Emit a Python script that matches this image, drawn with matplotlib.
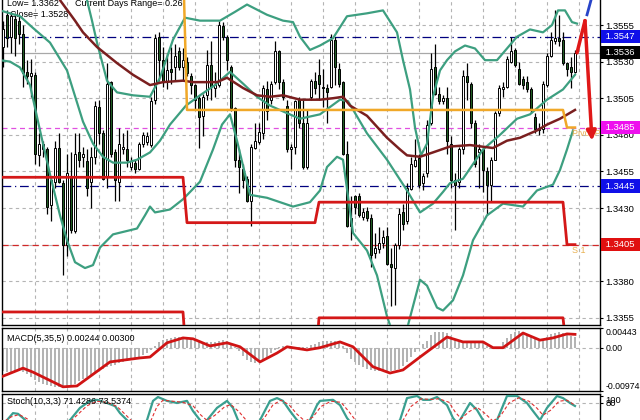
import numpy as np
import matplotlib
matplotlib.use('Agg')
import matplotlib.pyplot as plt

plt.rcParams['font.family'] = ['Liberation Sans', 'DejaVu Sans']
plt.rcParams['font.size'] = 6.5

# candles, one per bar
opens = [1.3540, 1.3562, 1.3547, 1.3559, 1.3558, 1.3549, 1.3523, 1.3520,
         1.3521, 1.3466, 1.3470, 1.3470, 1.3432, 1.3448, 1.3471, 1.3447,
         1.3405, 1.3452, 1.3414, 1.3468, 1.3465, 1.3462, 1.3448, 1.3465,
         1.3499, 1.3481, 1.3451, 1.3516, 1.3468, 1.3448, 1.3470, 1.3470,
         1.3458, 1.3461, 1.3457, 1.3474, 1.3475, 1.3473, 1.3504, 1.3547,
         1.3531, 1.3517, 1.3525, 1.3526, 1.3537, 1.3526, 1.3530, 1.3520,
         1.3514, 1.3505, 1.3493, 1.3507, 1.3528, 1.3512, 1.3514, 1.3554,
         1.3547, 1.3526, 1.3498, 1.3463, 1.3457, 1.3450, 1.3435, 1.3471,
         1.3475, 1.3481, 1.3511, 1.3504, 1.3516, 1.3537, 1.3516, 1.3500,
         1.3470, 1.3472, 1.3504, 1.3488, 1.3458, 1.3506, 1.3517, 1.3521,
         1.3513, 1.3512, 1.3513, 1.3545, 1.3525, 1.3516, 1.3467, 1.3418,
         1.3438, 1.3438, 1.3424, 1.3428, 1.3423, 1.3399, 1.3402, 1.3406,
         1.3411, 1.3392, 1.3389, 1.3405, 1.3427, 1.3421, 1.3443, 1.3459,
         1.3464, 1.3447, 1.3454, 1.3488, 1.3526, 1.3508, 1.3503, 1.3505,
         1.3474, 1.3449, 1.3448, 1.3470, 1.3520, 1.3515, 1.3488, 1.3468,
         1.3470, 1.3455, 1.3446, 1.3463, 1.3495, 1.3511, 1.3513, 1.3530,
         1.3538, 1.3525, 1.3518, 1.3516, 1.3511, 1.3492, 1.3483, 1.3484,
         1.3514, 1.3534, 1.3544, 1.3546, 1.3545, 1.3529, 1.3526, 1.3523]
highs = [1.3558, 1.3565, 1.3564, 1.3563, 1.3562, 1.3555, 1.3531, 1.3532,
         1.3523, 1.3481, 1.3476, 1.3472, 1.3451, 1.3476, 1.3481, 1.3449,
         1.3467, 1.3468, 1.3481, 1.3481, 1.3472, 1.3470, 1.3472, 1.3503,
         1.3504, 1.3483, 1.3529, 1.3517, 1.3470, 1.3485, 1.3481, 1.3483,
         1.3465, 1.3463, 1.3475, 1.3482, 1.3482, 1.3506, 1.3549, 1.3550,
         1.3540, 1.3536, 1.3540, 1.3542, 1.3540, 1.3539, 1.3533, 1.3522,
         1.3515, 1.3507, 1.3508, 1.3538, 1.3544, 1.3523, 1.3558, 1.3557,
         1.3548, 1.3528, 1.3499, 1.3470, 1.3460, 1.3452, 1.3474, 1.3488,
         1.3488, 1.3514, 1.3517, 1.3517, 1.3544, 1.3538, 1.3518, 1.3504,
         1.3474, 1.3504, 1.3506, 1.3504, 1.3497, 1.3518, 1.3523, 1.3532,
         1.3525, 1.3515, 1.3549, 1.3547, 1.3529, 1.3517, 1.3476, 1.3438,
         1.3439, 1.3440, 1.3430, 1.3431, 1.3426, 1.3413, 1.3417, 1.3415,
         1.3417, 1.3403, 1.3406, 1.3430, 1.3433, 1.3447, 1.3465, 1.3477,
         1.3467, 1.3454, 1.3490, 1.3536, 1.3542, 1.3513, 1.3507, 1.3513,
         1.3479, 1.3454, 1.3472, 1.3524, 1.3529, 1.3516, 1.3490, 1.3474,
         1.3471, 1.3458, 1.3465, 1.3496, 1.3514, 1.3516, 1.3534, 1.3547,
         1.3539, 1.3530, 1.3520, 1.3520, 1.3513, 1.3495, 1.3488, 1.3517,
         1.3536, 1.3550, 1.3565, 1.3562, 1.3550, 1.3530, 1.3533, 1.3538]
lows = [1.3526, 1.3540, 1.3536, 1.3534, 1.3542, 1.3513, 1.3515, 1.3506,
        1.3460, 1.3459, 1.3465, 1.3426, 1.3421, 1.3444, 1.3447, 1.3384,
        1.3397, 1.3413, 1.3413, 1.3458, 1.3458, 1.3438, 1.3430, 1.3460,
        1.3474, 1.3449, 1.3444, 1.3465, 1.3435, 1.3435, 1.3467, 1.3458,
        1.3456, 1.3454, 1.3456, 1.3472, 1.3473, 1.3472, 1.3501, 1.3517,
        1.3513, 1.3511, 1.3515, 1.3517, 1.3524, 1.3517, 1.3520, 1.3508,
        1.3497, 1.3471, 1.3479, 1.3504, 1.3504, 1.3506, 1.3513, 1.3545,
        1.3524, 1.3496, 1.3458, 1.3440, 1.3444, 1.3434, 1.3418, 1.3470,
        1.3474, 1.3477, 1.3490, 1.3501, 1.3515, 1.3511, 1.3504, 1.3468,
        1.3457, 1.3467, 1.3485, 1.3457, 1.3457, 1.3504, 1.3508, 1.3504,
        1.3499, 1.3488, 1.3512, 1.3514, 1.3513, 1.3466, 1.3417, 1.3408,
        1.3426, 1.3424, 1.3422, 1.3421, 1.3390, 1.3396, 1.3399, 1.3403,
        1.3391, 1.3363, 1.3364, 1.3402, 1.3415, 1.3419, 1.3442, 1.3458,
        1.3444, 1.3442, 1.3451, 1.3487, 1.3507, 1.3501, 1.3501, 1.3467,
        1.3444, 1.3415, 1.3444, 1.3467, 1.3504, 1.3485, 1.3458, 1.3444,
        1.3441, 1.3425, 1.3435, 1.3463, 1.3493, 1.3506, 1.3512, 1.3529,
        1.3526, 1.3514, 1.3511, 1.3509, 1.3495, 1.3481, 1.3480, 1.3481,
        1.3513, 1.3533, 1.3542, 1.3541, 1.3528, 1.3520, 1.3512, 1.3522]
closes = [1.3552, 1.3546, 1.3561, 1.3546, 1.3549, 1.3522, 1.3520, 1.3522,
          1.3467, 1.3474, 1.3474, 1.3431, 1.3449, 1.3471, 1.3448, 1.3405,
          1.3454, 1.3415, 1.3467, 1.3463, 1.3467, 1.3444, 1.3465, 1.3500,
          1.3481, 1.3450, 1.3515, 1.3467, 1.3449, 1.3474, 1.3472, 1.3463,
          1.3462, 1.3457, 1.3474, 1.3480, 1.3479, 1.3503, 1.3546, 1.3531,
          1.3517, 1.3524, 1.3523, 1.3534, 1.3526, 1.3531, 1.3522, 1.3514,
          1.3504, 1.3492, 1.3506, 1.3528, 1.3513, 1.3514, 1.3555, 1.3547,
          1.3531, 1.3498, 1.3463, 1.3458, 1.3449, 1.3435, 1.3472, 1.3476,
          1.3482, 1.3512, 1.3496, 1.3515, 1.3537, 1.3516, 1.3506, 1.3470,
          1.3472, 1.3503, 1.3488, 1.3458, 1.3488, 1.3517, 1.3512, 1.3515,
          1.3512, 1.3509, 1.3545, 1.3526, 1.3515, 1.3467, 1.3418, 1.3423,
          1.3431, 1.3425, 1.3427, 1.3423, 1.3398, 1.3403, 1.3406, 1.3410,
          1.3392, 1.3390, 1.3405, 1.3426, 1.3419, 1.3444, 1.3460, 1.3463,
          1.3446, 1.3452, 1.3487, 1.3525, 1.3508, 1.3503, 1.3505, 1.3476,
          1.3449, 1.3446, 1.3470, 1.3520, 1.3516, 1.3488, 1.3460, 1.3470,
          1.3456, 1.3446, 1.3463, 1.3495, 1.3512, 1.3513, 1.3532, 1.3537,
          1.3528, 1.3515, 1.3514, 1.3511, 1.3497, 1.3484, 1.3485, 1.3515,
          1.3534, 1.3545, 1.3546, 1.3544, 1.3529, 1.3525, 1.3523, 1.3536]

# Bollinger bands (bar, price)
bb_up_x = [19, 21, 22.25, 23.5, 26, 28.5, 32.5, 36.75, 39.25, 42.5, 45.5, 49.25, 54.25, 58, 61,
           66, 70, 72.5, 74.25, 76.75, 79.25, 82.5, 86, 91, 95, 98.5, 100, 101.75, 103, 104.5,
           106, 107.5, 109.25, 111, 113, 115.5, 118, 120.5, 123.5, 126, 128.5, 131.75, 135,
           137.25, 138.75, 140.5, 142.25, 143.5]
bb_up_y = [1.3589, 1.3572, 1.3558, 1.3543, 1.3517, 1.3509, 1.3507, 1.3506, 1.3519, 1.3545, 1.3560,
           1.3558, 1.3558, 1.3564, 1.3569, 1.3562, 1.3558, 1.3557, 1.3547, 1.3538, 1.3541, 1.3546,
           1.3561, 1.3563, 1.3565, 1.3550, 1.3531, 1.3511, 1.3485, 1.3466, 1.3474, 1.3506, 1.3524,
           1.3531, 1.3537, 1.3541, 1.3539, 1.3531, 1.3531, 1.3539, 1.3547, 1.3552, 1.3550, 1.3555,
           1.3565, 1.3565, 1.3557, 1.3556]
bb_mid_x = [-0.75, 4.25, 7.5, 11.75, 16, 20, 22.5, 25, 27.5, 31, 33.5, 36.75, 39.25, 41.75, 45.75,
            49.25, 53, 56.75, 60, 63.5, 66.75, 70, 74.25, 79.25, 84.25, 86.25, 91, 96, 101, 104.25,
            107.5, 110, 111.75, 115, 120, 124.25, 128.5, 131.75, 136, 140, 143]
bb_mid_y = [1.3565, 1.3561, 1.3553, 1.3543, 1.3524, 1.3489, 1.3474, 1.3465, 1.3461, 1.3461, 1.3463,
            1.3468, 1.3476, 1.3487, 1.3500, 1.3507, 1.3514, 1.3523, 1.3515, 1.3506, 1.3500, 1.3496,
            1.3491, 1.3494, 1.3504, 1.3503, 1.3481, 1.3463, 1.3442, 1.3427, 1.3433, 1.3441, 1.3447,
            1.3450, 1.3470, 1.3480, 1.3491, 1.3494, 1.3504, 1.3511, 1.3521]
bb_low_x = [-0.75, 1.75, 4.25, 6.75, 9.25, 11.75, 14.25, 16, 18, 20.5, 22.5, 24.25, 27.5, 30.5, 33.5,
            35.5, 36.75, 38, 41.75, 45, 49.25, 52.5, 54.75, 56.75, 58.5, 61.75, 66, 72.5, 76.75,
            79.25, 81, 83.5, 85, 87.5, 91, 93.5, 96, 98.5, 101.25, 104.25, 106, 108.5, 110, 112.5,
            115, 117.5, 121, 125, 130, 133.5, 137.5, 139.25, 141, 142.5]
bb_low_y = [1.3531, 1.3530, 1.3526, 1.3514, 1.3483, 1.3453, 1.3425, 1.3408, 1.3393, 1.3389, 1.3391,
            1.3403, 1.3412, 1.3414, 1.3416, 1.3425, 1.3431, 1.3427, 1.3429, 1.3436, 1.3448, 1.3470,
            1.3487, 1.3494, 1.3476, 1.3439, 1.3437, 1.3431, 1.3434, 1.3442, 1.3458, 1.3465, 1.3463,
            1.3413, 1.3401, 1.3384, 1.3356, 1.3336, 1.3350, 1.3381, 1.3377, 1.3362, 1.3360, 1.3367,
            1.3384, 1.3408, 1.3425, 1.3433, 1.3431, 1.3442, 1.3446, 1.3456, 1.3470, 1.3483]

# slow moving average (bar, price)
ma_x = [13, 14.25, 18, 20, 23.5, 28.5, 32.5, 36.75, 40, 45, 47.5, 53.5, 56, 60, 63.5, 66.75, 70,
        74.25, 79.25, 82.5, 85, 86.75, 91, 96, 99.25, 101, 104.25, 107.5, 111.75, 116.75, 122.5,
        126, 129.25, 133.5, 136, 139.25, 143]
ma_y = [1.3579, 1.3572, 1.3558, 1.3550, 1.3540, 1.3529, 1.3521, 1.3514, 1.3516, 1.3517, 1.3516,
        1.3516, 1.3519, 1.3512, 1.3507, 1.3506, 1.3507, 1.3504, 1.3504, 1.3505, 1.3506, 1.3500,
        1.3493, 1.3478, 1.3470, 1.3466, 1.3465, 1.3468, 1.3472, 1.3473, 1.3471, 1.3476, 1.3478,
        1.3483, 1.3487, 1.3491, 1.3497]

# daily pivot levels, by session start bar
session_start = [0, 46, 79, 141]
pivot_lv = [1.3600, 1.3497, 1.3497, 1.3485]
s1_lv = [1.3451, 1.3420, 1.3434, 1.3405]
s2_lv = [1.3359, 1.3320, 1.3355, 1.3330]

# forecast arrows
arrow_red_x = [143.5, 145.5, 147.25]
arrow_red_y = [1.3536, 1.3558, 1.3476]
arrow_blue_x = [146, 147.4]
arrow_blue_y = [1.3562, 1.3576]

price_grid = [1.3355, 1.3380, 1.3405, 1.3430, 1.3455, 1.3480, 1.3505, 1.3530, 1.3555]

# MACD(5,35,5)
macd_hist = [-0.0052, -0.0055, -0.0055, -0.0053, -0.0052, -0.0055, -0.0060, -0.0066,
             -0.0072, -0.0078, -0.0082, -0.0085, -0.0087, -0.0088, -0.0089, -0.0090,
             -0.0088, -0.0085, -0.0081, -0.0076, -0.0071, -0.0066, -0.0061, -0.0056,
             -0.0052, -0.0048, -0.0044, -0.0041, -0.0038, -0.0035, -0.0032, -0.0029,
             -0.0026, -0.0023, -0.0020, -0.0016, -0.0012, -0.0006, 0.0004, 0.0012,
             0.0017, 0.0020, 0.0022, 0.0023, 0.0024, 0.0024, 0.0022, 0.0020,
             0.0018, 0.0015, 0.0013, 0.0013, 0.0013, 0.0013, 0.0016, 0.0017,
             0.0015, 0.0010, 0.0002, -0.0008, -0.0018, -0.0027, -0.0033, -0.0035,
             -0.0033, -0.0027, -0.0020, -0.0013, -0.0005, 0.0002, 0.0004, 0.0003,
             0.0002, 0.0002, 0.0002, 0.0001, 0.0002, 0.0005, 0.0009, 0.0012,
             0.0014, 0.0015, 0.0016, 0.0015, 0.0012, 0.0003, -0.0012, -0.0025,
             -0.0033, -0.0039, -0.0044, -0.0047, -0.0050, -0.0052, -0.0053, -0.0053,
             -0.0053, -0.0053, -0.0051, -0.0048, -0.0042, -0.0032, -0.0020, -0.0010,
             -0.0003, 0.0008, 0.0016, 0.0028, 0.0035, 0.0036, 0.0035, 0.0033,
             0.0027, 0.0020, 0.0013, 0.0010, 0.0010, 0.0012, 0.0012, 0.0012,
             0.0010, 0.0004, -0.0001, -0.0003, 0.0002, 0.0012, 0.0022, 0.0030,
             0.0035, 0.0037, 0.0035, 0.0031, 0.0027, 0.0020, 0.0015, 0.0017,
             0.0024, 0.0030, 0.0034, 0.0035, 0.0033, 0.0030, 0.0027, 0.0024]
macd_sig_x = [0, 5, 7.5, 15, 18.5, 26.75, 34.25, 36.75, 41, 45, 47.5, 51.75, 56, 59.25, 64.25,
              68.5, 71, 76, 79.25, 84.25, 87.5, 92.5, 96.75, 100, 104.25, 111, 115, 120, 122.5,
              125, 130, 134.25, 137.5, 141, 143]
macd_sig_y = [-0.0064, -0.0046, -0.0055, -0.0088, -0.0086, -0.0032, -0.0023, -0.0021, 0.0011,
              0.0022, 0.0020, 0.0004, 0.0011, 0.0002, -0.0032, -0.0012, 0.0002, -0.0005, 0.0000,
              0.0013, 0.0002, -0.0043, -0.0057, -0.0050, -0.0021, 0.0024, 0.0013, 0.0013, 0.0000,
              0.0000, 0.0033, 0.0017, 0.0022, 0.0031, 0.0030]

# Stochastic(10,3,3)
st_x = [0, 1, 2.5, 3.75, 5, 6.75, 10.5, 14.25, 16.75, 19.25, 21.75, 23.5, 26, 28, 29.25, 31, 33,
        34.75, 36, 37.5, 38.75, 41, 43.5, 46, 47.5, 49.25, 50, 51, 53.5, 56, 57.5, 58.75, 60.5,
        63, 64.25, 66.75, 68.5, 70, 71.75, 73.5, 75, 76.75, 78.5, 79.25, 82.5, 84.25, 86, 88,
        91.75, 96.75, 99.25, 101, 103.5, 105, 106.75, 108.5, 111, 112.5, 113.5, 114.25, 116.75,
        118.5, 120, 121.75, 123.5, 126, 128.5, 131, 132.5, 134.25, 136, 138.5, 140, 141.75, 143]
st_main = [17, 31, 51, 49, 37, 17, 3, 9, 31, 66, 86, 89, 80, 71, 51, 31, 9, 14, 31, 86, 97, 86,
           80, 86, 57, 31, 20, 31, 66, 86, 66, 31, 9, 14, 31, 86, 94, 86, 57, 31, 17, 31, 74, 86,
           89, 74, 37, 9, 1, 9, 31, 94, 100, 89, 89, 97, 74, 37, 23, 31, 80, 60, 31, 17, 31, 100,
           100, 80, 57, 31, 66, 100, 94, 80, 71.4]
st_sig_x = [0, 2, 4, 6, 8, 12, 16, 18.5, 21, 23.5, 26, 28.5, 30.5, 32.5, 35, 37, 38.5, 40, 42.5,
            45, 47.5, 49.5, 51, 53, 55.5, 57, 59, 61, 63.5, 65.5, 67.5, 69.5, 71.5, 73.5, 75.5,
            77.5, 79.5, 82, 84.5, 86.5, 88.5, 92, 97, 100, 102, 104.5, 107, 109, 111.5, 113,
            114.5, 116.5, 118.5, 120.5, 122.5, 124.5, 126.5, 129, 131.5, 133.5, 135, 137, 139,
            141, 143]
st_sig = [25, 40, 47, 35, 18, 8, 18, 45, 72, 85, 82, 70, 48, 25, 14, 30, 70, 88, 85, 82, 72, 45,
          30, 45, 70, 75, 55, 28, 15, 40, 75, 88, 75, 48, 28, 40, 70, 85, 82, 55, 25, 8, 5, 30,
          70, 92, 90, 92, 82, 55, 35, 55, 68, 50, 28, 45, 80, 95, 85, 65, 45, 60, 85, 88, 73.5]

W, H = 640, 420
GRID = dict(color='#b4b4b4', linestyle=(0, (3, 3)), linewidth=0.8)
GREEN = '#3d9f80'


def panel(x0, y0, x1, y1, **kw):
    return fig.add_axes([x0 / W, 1 - y1 / H, (x1 - x0) / W, (y1 - y0) / H], **kw)


fig = plt.figure(figsize=(6.4, 4.2), dpi=100)
ax = panel(2, 0, 600, 325)
axm = panel(2, 328, 600, 391, sharex=ax)
axs = panel(2, 394, 600, 432, sharex=ax)

idx = np.arange(len(opens))
o = np.array(opens); h = np.array(highs); l = np.array(lows); c = np.array(closes)

for a in (ax, axm, axs):
    a.set_xticks(np.arange(8, 149, 8))
    a.grid(axis='x', **GRID)
    a.tick_params(axis='x', length=0, labelbottom=False)
    a.yaxis.tick_right()
    a.tick_params(axis='y', length=2.5, width=0.8, pad=1.5, labelsize=6.8)
    for s in a.spines.values():
        s.set_linewidth(1.0)
    a.set_axisbelow(True)
ax.spines['top'].set_visible(False)
ax.set_xlim(-0.25, 149.25)

# ---- main price panel ----
ax.set_ylim(1.33501, 1.35721)
ax.set_yticks(price_grid)
# 1.3405 sits under the red S1 tag, so its plain label is left blank
ax.set_yticklabels(['' if p == 1.3405 else f'{p:.4f}' for p in price_grid])
ax.grid(axis='y', **GRID)

ax.axhline(1.3547, color='#00007f', lw=0.9, ls=(0, (7, 3, 1, 3)), zorder=1)
ax.axhline(1.3536, color='#a8a8a8', lw=0.9, zorder=1)
ax.axhline(1.3485, color='#e050e0', lw=0.9, ls=(0, (4, 3)), zorder=1)
ax.axhline(1.3445, color='#00007f', lw=0.9, ls=(0, (7, 3, 1, 3)), zorder=1)
ax.axhline(1.3405, color='#d02828', lw=0.9, ls=(0, (5, 3)), zorder=1)

ax.text(0.0084, 0.99, 'Low= 1.3362', transform=ax.transAxes, va='center', zorder=1, clip_on=False)
ax.text(0.122, 0.99, 'Current Days Range= 0.26', transform=ax.transAxes, va='center', zorder=1,
        clip_on=False)
ax.text(0.0134, 0.954, 'Close= 1.3528', transform=ax.transAxes, va='center', zorder=1)

ax.vlines(idx, l, h, color='black', lw=0.9, zorder=3)
body_lo = np.minimum(o, c)
body_h = np.maximum(np.abs(c - o), 0.00004)
bull = c >= o
ax.bar(idx[bull], body_h[bull], bottom=body_lo[bull], width=0.72, color='white',
       edgecolor='black', linewidth=0.7, zorder=4)
ax.bar(idx[~bull], body_h[~bull], bottom=body_lo[~bull], width=0.72, color='#1f5c22',
       edgecolor='black', linewidth=0.7, zorder=4)

ax.plot(bb_up_x, bb_up_y, color=GREEN, lw=1.6, zorder=5)
ax.plot(bb_mid_x, bb_mid_y, color=GREEN, lw=1.6, zorder=5)
ax.plot(bb_low_x, bb_low_y, color=GREEN, lw=1.6, zorder=5)
ax.plot(ma_x, ma_y, color='#7a1f1f', lw=1.8, zorder=5)

counts = np.diff(session_start + [len(opens)])
ax.plot(idx, np.repeat(pivot_lv, counts), color='#f0a828', lw=1.8, zorder=5)
ax.plot(idx, np.repeat(s1_lv, counts), color='#d41818', lw=2.0, zorder=5)
ax.plot(idx, np.repeat(s2_lv, counts), color='#d41818', lw=2.0, zorder=5)
ax.text(142.3, 1.3481, 'Pivot Point', color='#e8b050', va='center', zorder=6, clip_on=True)
ax.text(142.3, 1.3401, 'S 1', color='#e8b050', va='center', zorder=6, clip_on=True)

ax.plot(arrow_red_x[:2], arrow_red_y[:2], color='#e01818', lw=2.5, zorder=7,
        solid_capstyle='round')
ax.annotate('', xy=(arrow_red_x[2], arrow_red_y[2]), xytext=(arrow_red_x[1], arrow_red_y[1]),
            arrowprops=dict(arrowstyle='-|>', color='#e01818', lw=2.5, mutation_scale=14,
                            shrinkA=0, shrinkB=0), zorder=7)
ax.plot(arrow_blue_x, arrow_blue_y, color='#2844c8', lw=2.0, zorder=7)

tags = [(1.3547, '#1010e8'), (1.3536, '#000000'), (1.3485, '#ee10ee'),
        (1.3445, '#1010e8'), (1.3405, '#e01010')]
for p, col in tags:
    ax.text(1.0045, p, f' {p:.4f}  ', transform=ax.get_yaxis_transform(), ha='left', va='center',
            color='white', fontsize=6.8, zorder=10, clip_on=False,
            bbox=dict(boxstyle='square,pad=0.22', fc=col, ec='none'))

# ---- MACD panel ----
axm.set_ylim(-0.00974, 0.00443)
axm.bar(idx, macd_hist, width=0.5, color='#b4b4b4', zorder=2)
axm.plot(macd_sig_x, macd_sig_y, color='#d01414', lw=2.0, zorder=3)
axm.set_yticks([0.00443, 0.0, -0.00974])
axm.set_yticklabels(['0.00443', '0.00', '-0.00974'])
axm.tick_params(axis='y', labelsize=6.3)
axm.get_yticklabels()[0].set_verticalalignment('top')
axm.get_yticklabels()[2].set_verticalalignment('bottom')
axm.grid(axis='y', **GRID)
gl = axm.get_ygridlines()
gl[0].set_visible(False); gl[2].set_visible(False)
axm.text(0.0084, 0.84, 'MACD(5,35,5) 0.00244 0.00300', transform=axm.transAxes, va='center')

# ---- Stochastic panel ----
axs.set_ylim(-3, 105.7)
axs.plot(st_x, st_main, color='#3a9f90', lw=1.6, zorder=3)
axs.plot(st_sig_x, st_sig, color='#e03030', lw=0.8, ls=(0, (3, 2)), zorder=3)
axs.set_yticks([100, 80])
axs.set_yticklabels(['100', '80'])
axs.get_yticklabels()[0].set_verticalalignment('top')
axs.grid(axis='y', **GRID)
axs.get_ygridlines()[0].set_visible(False)
axs.text(0.0084, 0.79, 'Stoch(10,3,3) 71.4286 73.5374', transform=axs.transAxes, va='center')

fig.savefig('out.png', dpi=100)
